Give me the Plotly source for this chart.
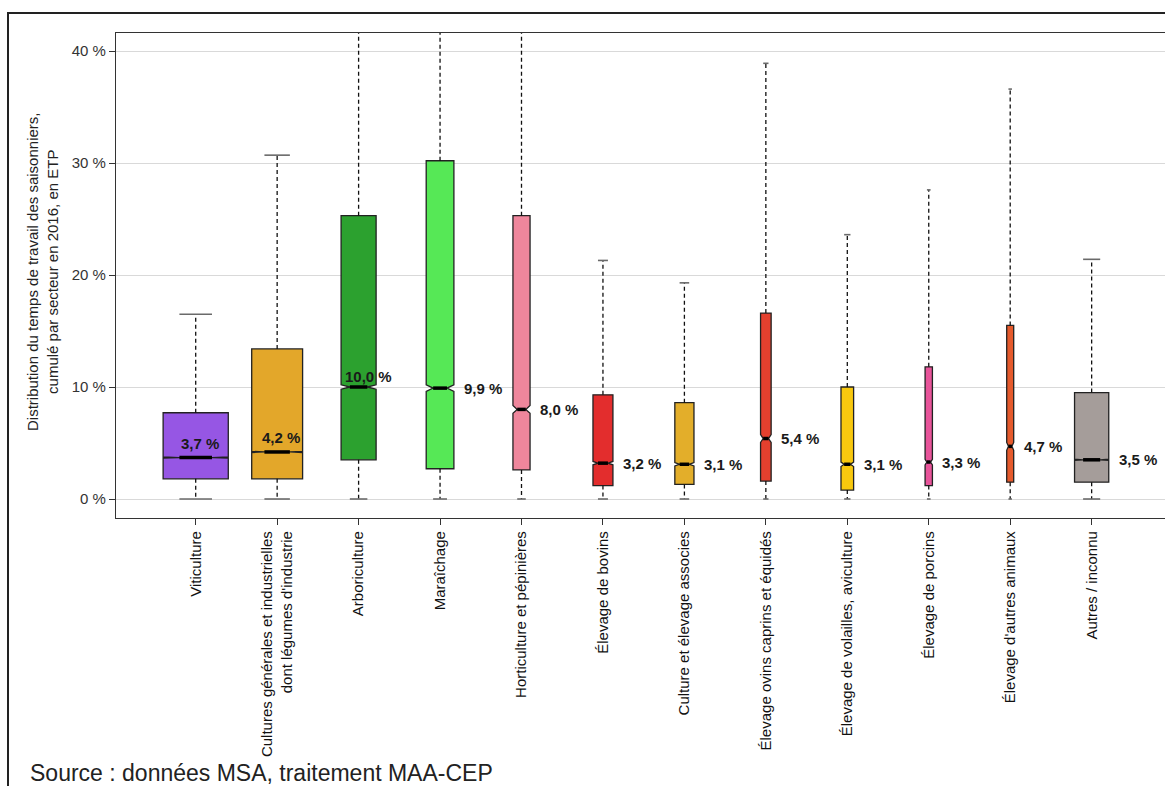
import plotly.graph_objects as go

# ---------------- data ----------------
categories = [
    "Viticulture",
    "Cultures générales et industrielles<br>dont légumes d'industrie",
    "Arboriculture",
    "Maraîchage",
    "Horticulture et pépinières",
    "Élevage de bovins",
    "Culture et élevage associes",
    "Élevage ovins caprins et équidés",
    "Élevage de volailles, aviculture",
    "Élevage de porcins",
    "Élevage d'autres animaux",
    "Autres / inconnu",
]
q1 = [1.8, 1.8, 3.5, 2.7, 2.6, 1.2, 1.3, 1.6, 0.8, 1.2, 1.5, 1.5]
median = [3.7, 4.2, 10.0, 9.9, 8.0, 3.2, 3.1, 5.4, 3.1, 3.3, 4.7, 3.5]
q3 = [7.7, 13.4, 25.3, 30.2, 25.3, 9.3, 8.6, 16.6, 10.0, 11.8, 15.5, 9.5]
lower_whisker = [0, 0, 0, 0, 0, 0, 0, 0, 0, 0, 0, 0]
upper_whisker = [16.5, 30.7, 48.0, 52.0, 46.0, 21.3, 19.3, 38.9, 23.6, 27.6, 36.6, 21.4]
notch_half = [0.05, 0.05, 0.2, 0.3, 0.35, 0.15, 0.15, 0.35, 0.2, 0.25, 0.35, 0.05]
y_ticks = [0, 10, 20, 30, 40]
y_tick_text = [f"{v} %" for v in y_ticks]

# ---------------- styles ----------------
colors = ["#9656e4", "#e3a72a", "#2ca12f", "#56e856", "#ef869c", "#e32d2d",
          "#e3ae2a", "#e4402e", "#f8c80e", "#e8549a", "#e55a2c", "#a59d9a"]
box_widths = [0.80, 0.625, 0.43, 0.34, 0.21, 0.245, 0.235, 0.13, 0.155, 0.09, 0.086, 0.42]
label_mode = ["above", "above", "above"] + ["right"] * 9
label_shift = [(4, 14), (4, 14), (10, 11)] + [(8, 0)] * 9

W, H = 1165, 786
ML, MR, MT, MB = 116, 0, 33, 268
PW = W - ML - MR
PH = H - MT - MB


def px_x(p):
    return (p - ML) / PW


def px_y(q):
    return (H - MB - q) / PH


fig = go.Figure()
xs = list(range(len(categories)))

for i in xs:
    w = box_widths[i]
    fig.add_trace(go.Box(
        x=[i], q1=[q1[i]], median=[median[i]], q3=[q3[i]],
        lowerfence=[q1[i]], upperfence=[q3[i]],
        notched=True, notchspan=[notch_half[i]], notchwidth=0.25,
        width=w, whiskerwidth=0,
        fillcolor=colors[i], line=dict(color="#222222", width=1.3),
        showlegend=False, hoverinfo="skip", boxpoints=False,
    ))

# dashed whiskers
wx, wy = [], []
for i in xs:
    wx += [i, i, None, i, i, None]
    wy += [q3[i], upper_whisker[i], None, q1[i], lower_whisker[i], None]
fig.add_trace(go.Scatter(x=wx, y=wy, mode="lines",
                         line=dict(color="#111111", width=1.3, dash="4px,3px"),
                         showlegend=False, hoverinfo="skip"))

# whisker caps
cx, cy = [], []
for i in xs:
    h = box_widths[i] / 4
    for v in (upper_whisker[i], lower_whisker[i]):
        cx += [i - h, i + h, None]
        cy += [v, v, None]
fig.add_trace(go.Scatter(x=cx, y=cy, mode="lines",
                         line=dict(color="#6a6a6a", width=1.6),
                         showlegend=False, hoverinfo="skip"))

# thick medians
mx, my = [], []
for i in xs:
    h = box_widths[i] / 4
    mx += [i - h, i + h, None]
    my += [median[i], median[i], None]
fig.add_trace(go.Scatter(x=mx, y=my, mode="lines",
                         line=dict(color="#000000", width=3.5),
                         showlegend=False, hoverinfo="skip"))

annotations = []
label_font = dict(family="Liberation Sans, Arial", size=15, color="#1a1a1a", weight="bold")
for i in xs:
    txt = f"{median[i]:.1f} %".replace(".", ",")
    dx, dy = label_shift[i]
    if label_mode[i] == "above":
        annotations.append(dict(x=i, y=median[i], xref="x", yref="y", text=txt,
                                showarrow=False, xanchor="center", yanchor="middle",
                                xshift=dx, yshift=dy, font=label_font))
    else:
        annotations.append(dict(x=i + box_widths[i] / 2, y=median[i], xref="x", yref="y",
                                text=txt, showarrow=False, xanchor="left", yanchor="middle",
                                xshift=dx, yshift=dy, font=label_font))

annotations.append(dict(
    x=px_x(42), y=px_y(272), xref="paper", yref="paper",
    text="Distribution du temps de travail des saisonniers,<br>cumulé par secteur en 2016, en ETP",
    textangle=-90, showarrow=False, xanchor="center", yanchor="middle",
    font=dict(family="Liberation Sans, Arial", size=15, color="#222222")))

annotations.append(dict(
    x=px_x(28), y=px_y(788), xref="paper", yref="paper",
    text="Source : données MSA, traitement MAA-CEP", showarrow=False,
    xanchor="left", yanchor="bottom",
    font=dict(family="Liberation Sans, Arial", size=23, color="#222222")))

shapes = [dict(type="path", xref="paper", yref="paper",
               path=f"M {px_x(8)} {px_y(800)} L {px_x(8)} {px_y(13)} L {px_x(1180)} {px_y(13)}",
               line=dict(color="#222222", width=2))]

fig.update_layout(
    width=W, height=H,
    margin=dict(l=ML, r=MR, t=MT, b=MB, pad=0),
    paper_bgcolor="white", plot_bgcolor="white",
    boxmode="overlay",
    showlegend=False,
    font=dict(family="Liberation Sans, Arial", size=15, color="#222222"),
    annotations=annotations,
    shapes=shapes,
    xaxis=dict(
        range=[-(195.7 - ML) / 81.45, -(195.7 - ML) / 81.45 + PW / 81.45],
        tickmode="array", tickvals=xs, ticktext=categories,
        tickangle=-90, ticks="outside", ticklen=6, tickcolor="#333333",
        tickfont=dict(family="Liberation Sans, Arial", size=15, color="#111111"),
        showgrid=False, zeroline=False,
        showline=True, linecolor="#333333", linewidth=1.3, mirror=True,
    ),
    yaxis=dict(
        range=[-1.696, 41.607],
        tickmode="array", tickvals=y_ticks, ticktext=y_tick_text,
        ticks="outside", ticklen=6, tickcolor="#333333",
        tickfont=dict(family="Liberation Sans, Arial", size=15, color="#333333"),
        showgrid=True, gridcolor="#d9d9d9", gridwidth=1, zeroline=False,
        showline=True, linecolor="#333333", linewidth=1.2,
    ),
)

fig.write_html("out.html", config={"displayModeBar": False},
               post_script="document.body.style.margin='0';document.body.style.overflow='hidden';")
